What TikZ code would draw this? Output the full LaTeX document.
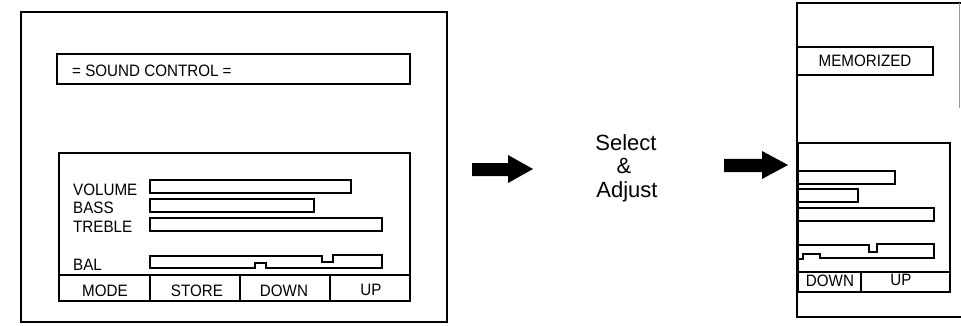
\documentclass[tikz,border=0pt]{standalone}
\usepackage{fontspec}
\setmainfont{Liberation Sans}
\newfontfamily\labfont[FakeStretch=0.92]{Liberation Sans}
\begin{document}
\begin{tikzpicture}[x=1pt,y=-1pt,
  panel/.style={line width=2pt},
  box/.style={line width=1.6pt},
  bar/.style={line width=1.4pt},
  lab/.style={anchor=base west,inner sep=0pt,font=\labfont\fontsize{16.5}{18}\selectfont},
  btn/.style={anchor=base,inner sep=0pt,font=\labfont\fontsize{16.5}{18}\selectfont},
  big/.style={anchor=base,inner sep=0pt,font=\fontsize{22}{24}\selectfont}]
\useasboundingbox (0,0) rectangle (961,326);
\fill[white] (0,0) rectangle (961,326);

% ---------- left panel ----------
\draw[panel] (21,12) rectangle (447,322);
\draw[box] (57,54) rectangle (410,84);
\node[lab] (title) at (72,77) {= SOUND CONTROL =};
\draw[box] (59,153) rectangle (410,301);
\draw[box] (59,275) -- (410,275);
\draw[box] (150,275) -- (150,301);
\draw[box] (240,275) -- (240,301);
\draw[box] (330,275) -- (330,301);
\node[lab] (vol) at (73,195) {VOLUME};
\node[lab] (bass) at (73,213) {BASS};
\node[lab] (treb) at (73,232) {TREBLE};
\node[lab] (bal) at (73,270) {BAL};
\draw[bar] (150,180) rectangle (351,193);
\draw[bar] (150,199) rectangle (314,212);
\draw[bar] (150,218) rectangle (382,231);
\draw[bar] (150,256) -- (322,256) -- (322,262) -- (333,262) -- (333,255) -- (382,255)
  -- (382,268) -- (266,268) -- (266,263) -- (255,263) -- (255,268) -- (150,268) -- cycle;
\node[btn] (mode) at (105,296) {MODE};
\node[btn] (store) at (197,296) {STORE};
\node[btn] (down1) at (284,296) {DOWN};
\node[btn] (up1) at (371,295) {UP};

% ---------- arrows ----------
\fill (472,163) -- (508,163) -- (508,155) -- (533,169) -- (508,183) -- (508,176) -- (472,176) -- cycle;
\fill (724,159) -- (762,159) -- (762,151) -- (788,165) -- (762,179) -- (762,172) -- (724,172) -- cycle;

% ---------- middle text ----------
\node[big] (sel) at (626,150) {Select};
\node[big] (amp) at (624,173) {\&};
\node[big] (adj) at (627,197) {Adjust};

% ---------- right panel ----------
\draw[panel] (961,3) -- (797,3) -- (797,317) -- (961,317);
\draw[line width=1pt,black!40] (959,3) -- (959,108);
\draw[box] (797,47) rectangle (933,75);
\node[btn] (mem) at (865,67) {MEMORIZED};
\draw[box] (798,143) rectangle (950,292);
\draw[box] (798,272) -- (950,272);
\draw[box] (861,272) -- (861,292);
\draw[bar] (798,171) -- (895,171) -- (895,184) -- (798,184);
\draw[bar] (798,189) -- (858,189) -- (858,202) -- (798,202);
\draw[bar] (798,208) -- (934,208) -- (934,221) -- (798,221);
\draw[bar] (798,245) -- (869,245) -- (869,252) -- (877,252) -- (877,244) -- (934,244)
  -- (934,258) -- (820,258) -- (820,254) -- (803,254) -- (803,259) -- (798,259);
\node[btn] (down2) at (830,286) {DOWN};
\node[btn] (up2) at (901,285) {UP};
\end{tikzpicture}
\end{document}
